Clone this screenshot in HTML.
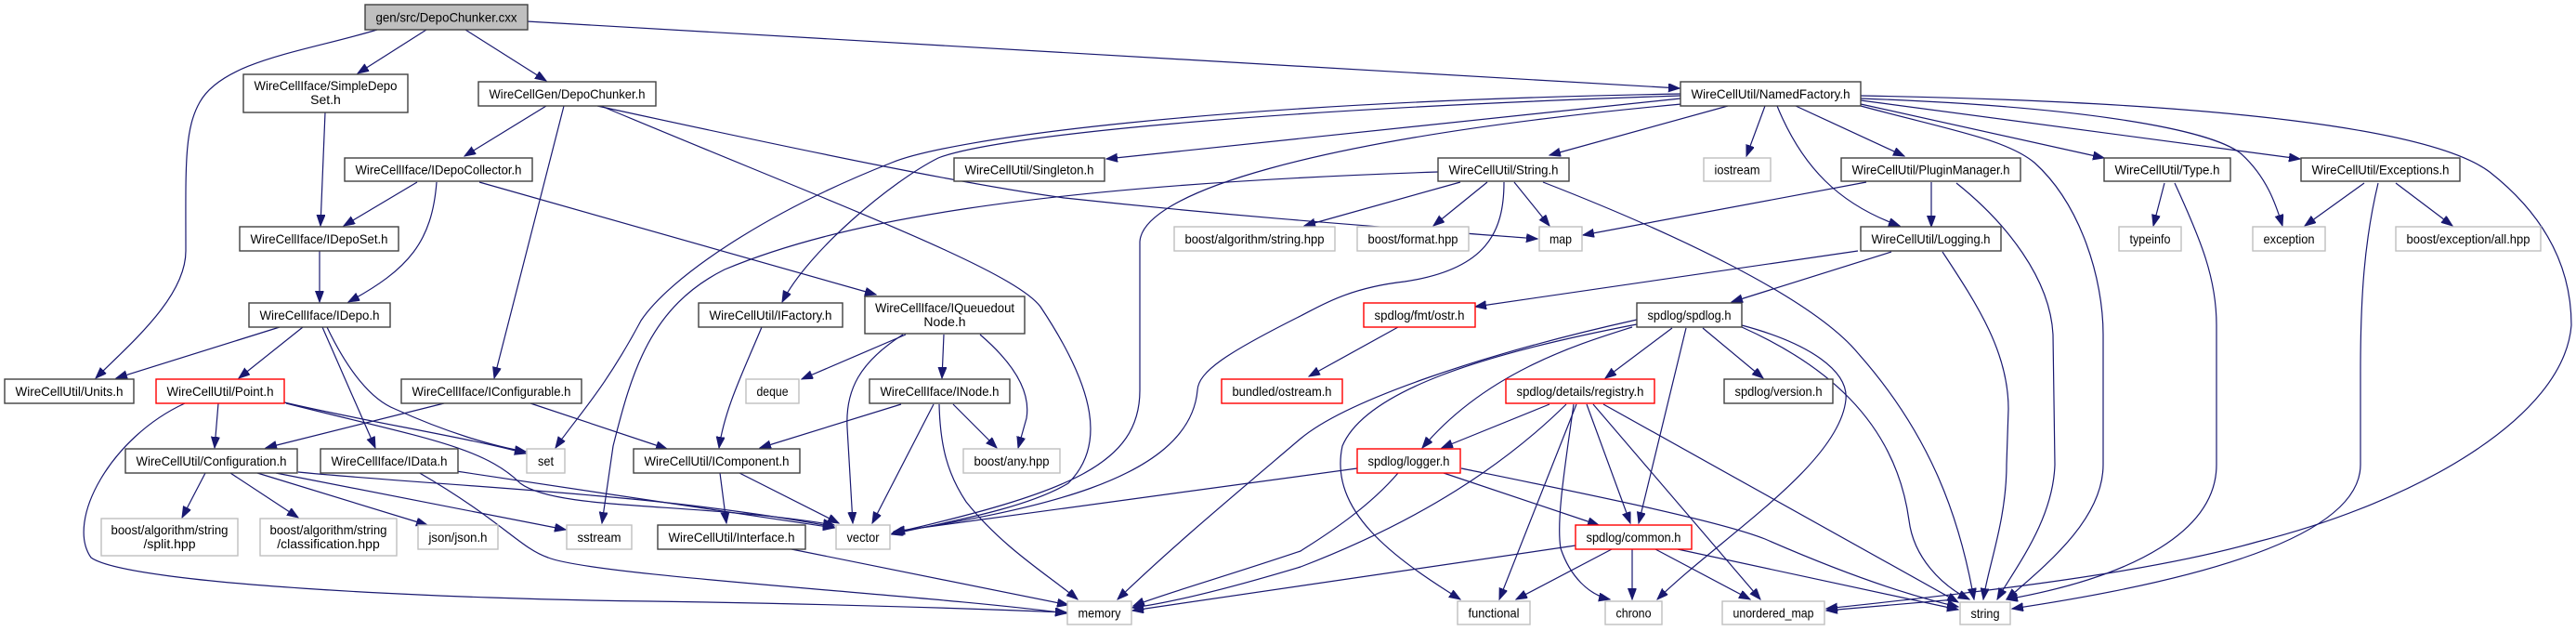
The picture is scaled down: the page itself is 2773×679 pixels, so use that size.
<!DOCTYPE html>
<html><head><meta charset="utf-8"><style>
html,body{margin:0;padding:0;background:#fff;}
svg{display:block;}
text{font-family:"Liberation Sans",Arial,sans-serif;font-size:14px;fill:#000;}
.e{fill:none;stroke:#191970;stroke-width:1.2;marker-end:url(#a);}
.n{fill:#fff;stroke:#404040;stroke-width:1.4;}
.g{fill:#fff;stroke:#bfbfbf;stroke-width:1.4;}
.r{fill:#fff;stroke:#ff0000;stroke-width:1.4;}
</style></head><body>
<svg width="2773" height="679" viewBox="0 0 2773 679" xmlns="http://www.w3.org/2000/svg">
<defs><marker id="a" markerUnits="userSpaceOnUse" markerWidth="13" markerHeight="10" refX="12" refY="4.5" orient="auto"><path d="M0,0 L12,4.5 L0,9 z" fill="#191970" stroke="#191970"/></marker></defs>
<g>
<path class="e" d="M459,32 L385,79"/>
<path class="e" d="M501,32 L588,87"/>
<path class="e" d="M406,32 C330,55 240,65 215,110 C198,140 200,180 200,270 C200,320 140,370 103,407"/>
<path class="e" d="M567,23 L1808,95"/>
<path class="e" d="M350,121 L345,243"/>
<path class="e" d="M588,114 L500,168"/>
<path class="e" d="M607,114 L532,407"/>
<path class="e" d="M643,114 C900,170 1050,200 1146,213 C1350,235 1500,245 1655,257"/>
<path class="e" d="M647,114 C900,220 1090,290 1120,330 C1180,420 1190,480 1150,520 C1100,550 1000,565 960,575"/>
<path class="e" d="M449,196 L370,243"/>
<path class="e" d="M470,196 C465,260 440,290 375,325"/>
<path class="e" d="M516,196 L943,317"/>
<path class="e" d="M344,270 L344,325"/>
<path class="e" d="M301,352 L125,407"/>
<path class="e" d="M326,352 L257,407"/>
<path class="e" d="M347,352 L404,482"/>
<path class="e" d="M352,352 C375,400 400,430 425,440 C480,465 530,480 566,486"/>
<path class="e" d="M306,433 C400,455 500,470 566,488"/>
<path class="e" d="M308,434 C450,470 520,480 560,520 C600,550 750,540 898,565"/>
<path class="e" d="M235,434 L231,482"/>
<path class="e" d="M199,434 C120,470 70,560 98,600 C140,630 500,645 700,647 C900,650 1050,655 1148,659"/>
<path class="e" d="M478,434 L286,482"/>
<path class="e" d="M571,434 L718,483"/>
<path class="e" d="M221,509 L196,557"/>
<path class="e" d="M248,509 L321,557"/>
<path class="e" d="M277,509 L460,565"/>
<path class="e" d="M297,509 L609,570"/>
<path class="e" d="M321,508 C500,525 700,530 898,567"/>
<path class="e" d="M491,507 L898,568"/>
<path class="e" d="M450,508 C540,560 560,590 590,600 C640,620 1000,640 1148,660"/>
<path class="e" d="M1809,106 C1500,140 1300,160 1191,171"/>
<path class="e" d="M1809,103 C1300,120 1060,150 1010,170 C960,195 870,270 842,325"/>
<path class="e" d="M1809,101 C1300,110 1020,150 960,175 C820,230 720,300 690,345 C650,420 620,450 598,482"/>
<path class="e" d="M1810,112 C1400,150 1230,210 1227,260 L1227,420 C1227,500 1150,530 960,574"/>
<path class="e" d="M1860,114 L1668,167"/>
<path class="e" d="M1900,114 L1880,168"/>
<path class="e" d="M1913,114 C1940,180 1980,220 2045,243"/>
<path class="e" d="M1933,114 L2050,168"/>
<path class="e" d="M2003,112 L2265,170"/>
<path class="e" d="M2003,108 L2476,171"/>
<path class="e" d="M2003,106 C2250,115 2380,140 2412,165 C2440,190 2450,220 2457,243"/>
<path class="e" d="M2003,114 C2100,140 2160,150 2190,175 C2240,220 2264,300 2264,360 L2264,500 C2264,560 2200,610 2160,645"/>
<path class="e" d="M2003,103 C2400,110 2620,140 2680,185 C2750,240 2768,300 2768,350 C2760,450 2600,540 2430,583 C2300,620 2100,640 1966,655"/>
<path class="e" d="M2560,197 C2545,260 2541,320 2541,400 L2541,500 C2541,570 2400,620 2166,655"/>
<path class="e" d="M2545,197 L2481,243"/>
<path class="e" d="M2579,197 L2640,243"/>
<path class="e" d="M2330,197 L2318,243"/>
<path class="e" d="M2341,197 C2370,260 2386,300 2386,350 L2386,500 C2386,570 2300,620 2160,645"/>
<path class="e" d="M2009,196 L1704,253"/>
<path class="e" d="M2079,196 L2079,244"/>
<path class="e" d="M2106,197 C2160,240 2207,300 2210,360 L2212,500 C2210,560 2170,610 2150,645"/>
<path class="e" d="M2000,270 L1588,330"/>
<path class="e" d="M2036,271 L1864,325"/>
<path class="e" d="M2091,271 C2130,330 2162,380 2162,440 L2160,500 C2160,560 2140,610 2135,645"/>
<path class="e" d="M1572,196 L1404,243"/>
<path class="e" d="M1601,196 L1543,243"/>
<path class="e" d="M1630,196 L1668,243"/>
<path class="e" d="M1619,196 C1619,250 1600,290 1512,303 C1450,310 1420,330 1400,340 C1320,380 1290,400 1289,420 C1280,520 1100,550 962,573"/>
<path class="e" d="M1548,185 C1100,200 900,240 780,290 C700,330 680,400 660,480 L648,563"/>
<path class="e" d="M1661,196 C1800,250 1950,320 2000,380 C2080,470 2110,560 2125,645"/>
<path class="e" d="M1505,352 L1409,405"/>
<path class="e" d="M1800,353 L1728,407"/>
<path class="e" d="M1815,353 L1764,563"/>
<path class="e" d="M1833,353 L1898,407"/>
<path class="e" d="M1757,352 C1700,370 1600,400 1531,482"/>
<path class="e" d="M1762,344 C1600,380 1450,430 1400,472 C1320,540 1260,590 1203,645"/>
<path class="e" d="M1762,349 C1600,380 1470,420 1445,480 C1430,550 1500,600 1572,645"/>
<path class="e" d="M1875,350 C1950,370 1990,400 1987,430 C1980,500 1850,580 1784,645"/>
<path class="e" d="M1875,352 C1960,390 2040,450 2055,560 C2060,600 2090,630 2120,645"/>
<path class="e" d="M1668,435 L1552,482"/>
<path class="e" d="M1686,435 C1620,500 1530,560 1400,610 C1300,640 1250,650 1219,654"/>
<path class="e" d="M1697,435 L1614,645"/>
<path class="e" d="M1694,435 C1685,500 1675,560 1680,590 C1690,620 1710,640 1733,645"/>
<path class="e" d="M1708,435 L1755,563"/>
<path class="e" d="M1715,435 L1895,645"/>
<path class="e" d="M1726,435 L2108,648"/>
<path class="e" d="M1461,504 L962,572"/>
<path class="e" d="M1505,509 C1470,550 1420,580 1400,593 C1320,620 1250,640 1220,652"/>
<path class="e" d="M1554,509 L1721,565"/>
<path class="e" d="M1573,504 C1700,530 1850,560 1900,580 C1980,615 2050,640 2108,653"/>
<path class="e" d="M1696,587 L1219,657"/>
<path class="e" d="M1735,591 L1632,645"/>
<path class="e" d="M1757,591 L1757,645"/>
<path class="e" d="M1782,591 L1884,645"/>
<path class="e" d="M1806,591 L2108,656"/>
<path class="e" d="M820,352 C800,400 780,440 774,482"/>
<path class="e" d="M975,360 L863,408"/>
<path class="e" d="M972,360 C925,390 910,420 912,460 L918,563"/>
<path class="e" d="M1016,360 L1014,407"/>
<path class="e" d="M1055,360 C1090,390 1110,420 1105,450 L1096,482"/>
<path class="e" d="M970,435 L818,482"/>
<path class="e" d="M1005,435 L939,563"/>
<path class="e" d="M1011,435 C1012,480 1020,510 1040,540 C1080,590 1130,620 1160,645"/>
<path class="e" d="M1026,435 L1073,482"/>
<path class="e" d="M775,509 L782,563"/>
<path class="e" d="M796,509 L903,563"/>
<path class="e" d="M852,591 L1150,651"/>
<path class="e" d="M2105,645 L1966,657"/>
</g>
<g>
<rect x="393" y="5" width="175" height="27" fill="#bfbfbf" stroke="#404040" stroke-width="1.4"/>
<text x="480.5" y="23.5" text-anchor="middle" textLength="152" lengthAdjust="spacingAndGlyphs">gen/src/DepoChunker.cxx</text>

<rect class="n" x="262" y="80" width="177" height="41"/>
<text x="350.5" y="97" text-anchor="middle" textLength="154" lengthAdjust="spacingAndGlyphs">WireCellIface/SimpleDepo</text>
<text x="350.5" y="112" text-anchor="middle">Set.h</text>

<rect class="n" x="515" y="88" width="191" height="26"/>
<text x="610.5" y="106" text-anchor="middle" textLength="168" lengthAdjust="spacingAndGlyphs">WireCellGen/DepoChunker.h</text>

<rect class="n" x="371" y="170" width="202" height="25"/>
<text x="472" y="187.5" text-anchor="middle" textLength="179" lengthAdjust="spacingAndGlyphs">WireCellIface/IDepoCollector.h</text>

<rect class="n" x="258" y="244" width="171" height="26"/>
<text x="343.5" y="262" text-anchor="middle" textLength="148" lengthAdjust="spacingAndGlyphs">WireCellIface/IDepoSet.h</text>

<rect class="n" x="268" y="326" width="152" height="26"/>
<text x="344" y="344" text-anchor="middle" textLength="129" lengthAdjust="spacingAndGlyphs">WireCellIface/IDepo.h</text>

<rect class="n" x="5" y="408" width="139" height="26"/>
<text x="74.5" y="426" text-anchor="middle" textLength="116" lengthAdjust="spacingAndGlyphs">WireCellUtil/Units.h</text>

<rect class="r" x="168" y="408" width="138" height="26"/>
<text x="237" y="426" text-anchor="middle" textLength="115" lengthAdjust="spacingAndGlyphs">WireCellUtil/Point.h</text>

<rect class="n" x="432" y="408" width="194" height="26"/>
<text x="529" y="426" text-anchor="middle" textLength="171" lengthAdjust="spacingAndGlyphs">WireCellIface/IConfigurable.h</text>

<rect class="n" x="135" y="483" width="185" height="26"/>
<text x="227.5" y="501" text-anchor="middle" textLength="162" lengthAdjust="spacingAndGlyphs">WireCellUtil/Configuration.h</text>

<rect class="n" x="345" y="483" width="148" height="26"/>
<text x="419" y="501" text-anchor="middle" textLength="125" lengthAdjust="spacingAndGlyphs">WireCellIface/IData.h</text>

<rect class="g" x="567" y="483" width="41" height="26"/>
<text x="587.5" y="501" text-anchor="middle" textLength="17" lengthAdjust="spacingAndGlyphs">set</text>

<rect class="g" x="109" y="558" width="147" height="40"/>
<text x="182.5" y="575" text-anchor="middle" textLength="126" lengthAdjust="spacingAndGlyphs">boost/algorithm/string</text>
<text x="182.5" y="590" text-anchor="middle">/split.hpp</text>

<rect class="g" x="280" y="558" width="147" height="40"/>
<text x="353.5" y="575" text-anchor="middle" textLength="126" lengthAdjust="spacingAndGlyphs">boost/algorithm/string</text>
<text x="353.5" y="590" text-anchor="middle">/classification.hpp</text>

<rect class="g" x="450" y="565" width="86" height="26"/>
<text x="493" y="583" text-anchor="middle" textLength="63" lengthAdjust="spacingAndGlyphs">json/json.h</text>

<rect class="g" x="610" y="565" width="70" height="26"/>
<text x="645" y="583" text-anchor="middle" textLength="47" lengthAdjust="spacingAndGlyphs">sstream</text>

<rect class="n" x="1027" y="170" width="162" height="25"/>
<text x="1108" y="187.5" text-anchor="middle" textLength="139" lengthAdjust="spacingAndGlyphs">WireCellUtil/Singleton.h</text>

<rect class="g" x="1264" y="244" width="173" height="26"/>
<text x="1350.5" y="262" text-anchor="middle" textLength="150" lengthAdjust="spacingAndGlyphs">boost/algorithm/string.hpp</text>

<rect class="n" x="752" y="326" width="155" height="26"/>
<text x="829.5" y="344" text-anchor="middle" textLength="132" lengthAdjust="spacingAndGlyphs">WireCellUtil/IFactory.h</text>

<rect class="n" x="931" y="319" width="172" height="40"/>
<text x="1017" y="336" text-anchor="middle" textLength="150" lengthAdjust="spacingAndGlyphs">WireCellIface/IQueuedout</text>
<text x="1017" y="351" text-anchor="middle">Node.h</text>

<rect class="n" x="682" y="483" width="179" height="26"/>
<text x="771.5" y="501" text-anchor="middle" textLength="156" lengthAdjust="spacingAndGlyphs">WireCellUtil/IComponent.h</text>

<rect class="g" x="803" y="408" width="57" height="26"/>
<text x="831.5" y="426" text-anchor="middle" textLength="34" lengthAdjust="spacingAndGlyphs">deque</text>

<rect class="n" x="936" y="408" width="151" height="26"/>
<text x="1011.5" y="426" text-anchor="middle" textLength="128" lengthAdjust="spacingAndGlyphs">WireCellIface/INode.h</text>

<rect class="g" x="1037" y="483" width="104" height="26"/>
<text x="1089" y="501" text-anchor="middle" textLength="81" lengthAdjust="spacingAndGlyphs">boost/any.hpp</text>

<rect class="n" x="708" y="565" width="159" height="26"/>
<text x="787.5" y="583" text-anchor="middle" textLength="136" lengthAdjust="spacingAndGlyphs">WireCellUtil/Interface.h</text>

<rect class="g" x="900" y="565" width="58" height="26"/>
<text x="929" y="583" text-anchor="middle" textLength="35" lengthAdjust="spacingAndGlyphs">vector</text>

<rect class="g" x="1149" y="647" width="69" height="25"/>
<text x="1183.5" y="664.5" text-anchor="middle" textLength="46" lengthAdjust="spacingAndGlyphs">memory</text>

<rect class="r" x="1315" y="408" width="130" height="26"/>
<text x="1380" y="426" text-anchor="middle" textLength="107" lengthAdjust="spacingAndGlyphs">bundled/ostream.h</text>

<rect class="n" x="1809" y="88" width="194" height="26"/>
<text x="1906" y="106" text-anchor="middle" textLength="171" lengthAdjust="spacingAndGlyphs">WireCellUtil/NamedFactory.h</text>

<rect class="n" x="1548" y="170" width="141" height="25"/>
<text x="1618.5" y="187.5" text-anchor="middle" textLength="118" lengthAdjust="spacingAndGlyphs">WireCellUtil/String.h</text>

<rect class="g" x="1834" y="170" width="72" height="25"/>
<text x="1870" y="187.5" text-anchor="middle" textLength="49" lengthAdjust="spacingAndGlyphs">iostream</text>

<rect class="n" x="1982" y="170" width="193" height="25"/>
<text x="2078.5" y="187.5" text-anchor="middle" textLength="170" lengthAdjust="spacingAndGlyphs">WireCellUtil/PluginManager.h</text>

<rect class="g" x="1461" y="244" width="120" height="26"/>
<text x="1521" y="262" text-anchor="middle" textLength="97" lengthAdjust="spacingAndGlyphs">boost/format.hpp</text>

<rect class="g" x="1657" y="244" width="46" height="26"/>
<text x="1680" y="262" text-anchor="middle" textLength="24" lengthAdjust="spacingAndGlyphs">map</text>

<rect class="n" x="2003" y="244" width="151" height="26"/>
<text x="2078.5" y="262" text-anchor="middle" textLength="128" lengthAdjust="spacingAndGlyphs">WireCellUtil/Logging.h</text>

<rect class="r" x="1468" y="326" width="120" height="26"/>
<text x="1528" y="344" text-anchor="middle" textLength="97" lengthAdjust="spacingAndGlyphs">spdlog/fmt/ostr.h</text>

<rect class="n" x="1762" y="326" width="113" height="26"/>
<text x="1818.5" y="344" text-anchor="middle" textLength="90" lengthAdjust="spacingAndGlyphs">spdlog/spdlog.h</text>

<rect class="r" x="1621" y="408" width="160" height="26"/>
<text x="1701" y="426" text-anchor="middle" textLength="137" lengthAdjust="spacingAndGlyphs">spdlog/details/registry.h</text>

<rect class="n" x="1856" y="408" width="117" height="26"/>
<text x="1914.5" y="426" text-anchor="middle" textLength="94" lengthAdjust="spacingAndGlyphs">spdlog/version.h</text>

<rect class="r" x="1461" y="483" width="111" height="26"/>
<text x="1516.5" y="501" text-anchor="middle" textLength="88" lengthAdjust="spacingAndGlyphs">spdlog/logger.h</text>

<rect class="r" x="1696" y="565" width="125" height="26"/>
<text x="1758.5" y="583" text-anchor="middle" textLength="102" lengthAdjust="spacingAndGlyphs">spdlog/common.h</text>

<rect class="g" x="1569" y="647" width="78" height="25"/>
<text x="1608" y="664.5" text-anchor="middle" textLength="55" lengthAdjust="spacingAndGlyphs">functional</text>

<rect class="g" x="1728" y="647" width="61" height="25"/>
<text x="1758.5" y="664.5" text-anchor="middle" textLength="38" lengthAdjust="spacingAndGlyphs">chrono</text>

<rect class="g" x="1854" y="647" width="110" height="25"/>
<text x="1909" y="664.5" text-anchor="middle" textLength="87" lengthAdjust="spacingAndGlyphs">unordered_map</text>

<rect class="n" x="2265" y="170" width="136" height="25"/>
<text x="2333" y="187.5" text-anchor="middle" textLength="113" lengthAdjust="spacingAndGlyphs">WireCellUtil/Type.h</text>

<rect class="n" x="2477" y="170" width="171" height="25"/>
<text x="2562.5" y="187.5" text-anchor="middle" textLength="148" lengthAdjust="spacingAndGlyphs">WireCellUtil/Exceptions.h</text>

<rect class="g" x="2281" y="244" width="67" height="26"/>
<text x="2314.5" y="262" text-anchor="middle" textLength="44" lengthAdjust="spacingAndGlyphs">typeinfo</text>

<rect class="g" x="2425" y="244" width="78" height="26"/>
<text x="2464" y="262" text-anchor="middle" textLength="55" lengthAdjust="spacingAndGlyphs">exception</text>

<rect class="g" x="2579" y="244" width="156" height="26"/>
<text x="2657" y="262" text-anchor="middle" textLength="133" lengthAdjust="spacingAndGlyphs">boost/exception/all.hpp</text>

<rect class="g" x="2110" y="648" width="54" height="24"/>
<text x="2137" y="665" text-anchor="middle" textLength="31" lengthAdjust="spacingAndGlyphs">string</text>
</g>
</svg>
</body></html>
